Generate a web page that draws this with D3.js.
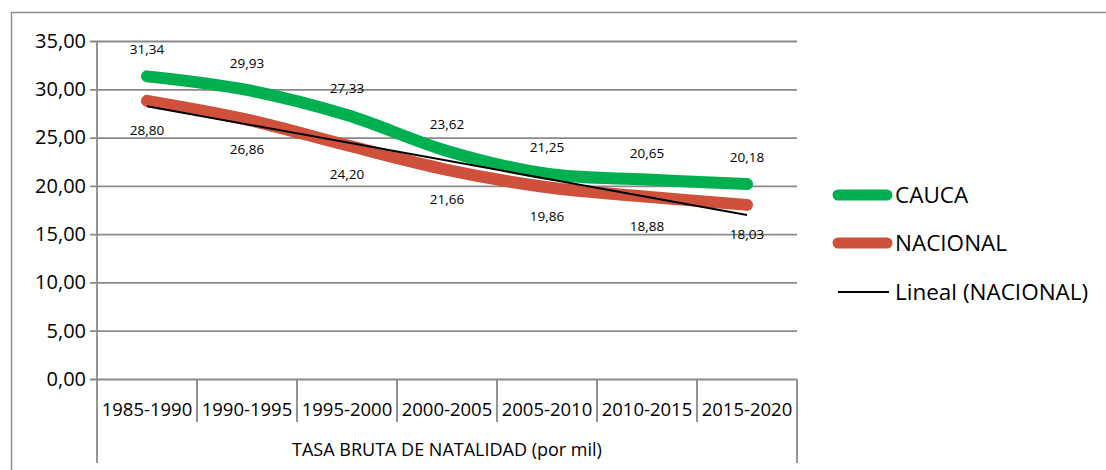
<!DOCTYPE html>
<html>
<head>
<meta charset="utf-8">
<script src="https://cdn.jsdelivr.net/npm/d3@7"></script>
<style>
  body { margin: 0; background: #fff; }
  svg { display: block; font-family: "Open Sans", "Noto Sans", sans-serif; }
</style>
</head>
<body>
<div id="chart"></div>
<script>
// chart values
var periods = ['1985-1990', '1990-1995', '1995-2000', '2000-2005', '2005-2010', '2010-2015', '2015-2020'];
var cauca = [31.34, 29.93, 27.33, 23.62, 21.25, 20.65, 20.18];
var nacional = [28.80, 26.86, 24.20, 21.66, 19.86, 18.88, 18.03];
var yTicks = [0, 5, 10, 15, 20, 25, 30, 35];
var axisTitle = 'TASA BRUTA DE NATALIDAD (por mil)';

var width = 1106;
var height = 470;
var plotL = 97, plotR = 797, plotT = 41, plotB = 379;

var svg = d3.select('#chart')
  .append('svg')
  .attr('width', width)
  .attr('height', height);

// outer frame (only top and left visible)
svg.append('path')
  .attr('d', 'M11.5,' + height + 'V12.5H' + width)
  .attr('fill', 'none')
  .attr('stroke', '#8c8c8c')
  .attr('stroke-width', 1.5);

var x = d3.scaleBand().domain(periods).range([plotL, plotR]);
var y = d3.scaleLinear().domain([0, 35]).range([plotB, plotT]);
var fmt = function(v) { return d3.format('.2f')(v).replace('.', ','); };

// gridlines + y labels
var yAxis = d3.axisLeft(y)
  .tickValues(yTicks)
  .tickSize(-(plotR - plotL))
  .tickPadding(11)
  .tickFormat(fmt);

var gy = svg.append('g')
  .attr('transform', 'translate(' + plotL + ',0)')
  .call(yAxis);
gy.select('.domain').remove();
gy.selectAll('.tick line')
  .attr('x1', -7)
  .attr('stroke', '#8a8a8a')
  .attr('stroke-width', 1.8);
gy.selectAll('.tick text')
  .attr('font-size', 20)
  .attr('font-family', '"Open Sans", sans-serif')
  .attr('fill', '#000');

// category axis
svg.append('line')
  .attr('x1', plotL).attr('x2', plotL)
  .attr('y1', plotT).attr('y2', 463)
  .attr('stroke', '#8a8a8a').attr('stroke-width', 1.8);
svg.append('line')
  .attr('x1', plotR).attr('x2', plotR)
  .attr('y1', plotB).attr('y2', 463)
  .attr('stroke', '#8a8a8a').attr('stroke-width', 1.8);

svg.append('g')
  .selectAll('line')
  .data(periods.slice(1))
  .enter().append('line')
    .attr('x1', d => x(d)).attr('x2', d => x(d))
    .attr('y1', plotB).attr('y2', 422)
    .attr('stroke', '#8a8a8a').attr('stroke-width', 1.8);

svg.append('g')
  .selectAll('text')
  .data(periods)
  .enter().append('text')
    .attr('x', d => x(d) + x.bandwidth() / 2)
    .attr('y', 416)
    .attr('text-anchor', 'middle')
    .attr('font-size', 18.5)
    .text(d => d);

svg.append('text')
  .attr('x', (plotL + plotR) / 2)
  .attr('y', 456)
  .attr('text-anchor', 'middle')
  .attr('font-size', 18)
  .text(axisTitle);

// linear trend of NACIONAL
var xs = nacional.map((v, i) => i + 1);
var mx = d3.mean(xs), my = d3.mean(nacional);
var slope = d3.sum(xs, (v, i) => (v - mx) * (nacional[i] - my)) / d3.sum(xs, v => (v - mx) * (v - mx));
var icpt = my - slope * mx;
var trend = [0, periods.length - 1].map(i => ({ p: periods[i], v: icpt + slope * (i + 1) }));

var cx = d => x(d) + x.bandwidth() / 2;
var line = d3.line()
  .x((v, i) => cx(periods[i]))
  .y(v => y(v))
  .curve(d3.curveCatmullRom.alpha(0));

svg.append('path')
  .datum(nacional)
  .attr('d', line)
  .attr('fill', 'none')
  .attr('stroke', '#cf513c')
  .attr('stroke-width', 12)
  .attr('stroke-linecap', 'round')
  .attr('stroke-linejoin', 'round');

svg.append('path')
  .datum(cauca)
  .attr('d', line)
  .attr('fill', 'none')
  .attr('stroke', '#00b050')
  .attr('stroke-width', 12)
  .attr('stroke-linecap', 'round')
  .attr('stroke-linejoin', 'round');

svg.append('line')
  .attr('x1', cx(trend[0].p)).attr('y1', y(trend[0].v))
  .attr('x2', cx(trend[1].p)).attr('y2', y(trend[1].v))
  .attr('stroke', '#000')
  .attr('stroke-width', 2);

// data labels
svg.append('g')
  .selectAll('text')
  .data(cauca)
  .enter().append('text')
    .attr('x', (v, i) => cx(periods[i]))
    .attr('y', v => y(v) - 22)
    .attr('text-anchor', 'middle')
    .attr('font-size', 13.5)
    .text(fmt);

svg.append('g')
  .selectAll('text')
  .data(nacional)
  .enter().append('text')
    .attr('x', (v, i) => cx(periods[i]))
    .attr('y', v => y(v) + 34)
    .attr('text-anchor', 'middle')
    .attr('font-size', 13.5)
    .text(fmt);

// legend
var legend = [
  { name: 'CAUCA', color: '#00b050', w: 11, y: 195 },
  { name: 'NACIONAL', color: '#cf513c', w: 11, y: 243 },
  { name: 'Lineal (NACIONAL)', color: '#000', w: 1.8, y: 292 }
];
var lg = svg.append('g')
  .selectAll('g')
  .data(legend)
  .enter().append('g');
lg.append('line')
  .attr('x1', 838)
  .attr('x2', d => d.w > 2 ? 887 : 889)
  .attr('y1', d => d.y).attr('y2', d => d.y)
  .attr('stroke', d => d.color)
  .attr('stroke-width', d => d.w)
  .attr('stroke-linecap', d => d.w > 2 ? 'round' : 'butt');
lg.append('text')
  .attr('x', 895)
  .attr('y', d => d.y + 8)
  .attr('font-size', 22.5)
  .text(d => d.name);
</script>
</body>
</html>
